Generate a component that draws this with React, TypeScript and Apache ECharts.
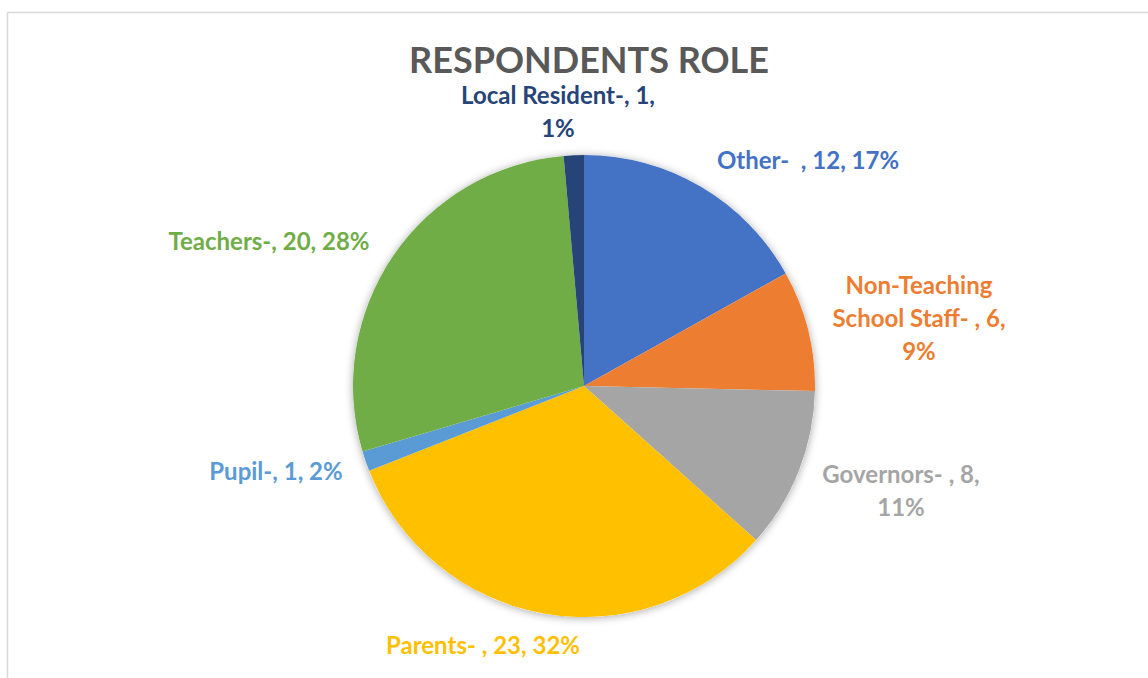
import React, { useEffect, useRef } from "react";
import * as echarts from "echarts";

const categories = [
  "Other",
  "Non-Teaching School Staff",
  "Governors",
  "Parents",
  "Pupil",
  "Teachers",
  "Local Resident",
];
const values = [12, 6, 8, 23, 1, 20, 1];
const labelTexts = [
  "Other-  , 12, 17%",
  "Non-Teaching\nSchool Staff- , 6,\n9%",
  "Governors- , 8,\n11%",
  "Parents- , 23, 32%",
  "Pupil-, 1, 2%",
  "Teachers-, 20, 28%",
  "Local Resident-, 1,\n1%",
];
const colors = ["#4472C4", "#ED7D31", "#A5A5A5", "#FFC000", "#5B9BD5", "#70AD47", "#264478"];
// label block centres (layout, not data)
const labelPos: [number, number][] = [
  [808, 159],
  [919, 317],
  [901, 490],
  [483, 644],
  [276, 470],
  [269, 240],
  [558, 111],
];

export default function App() {
  const ref = useRef<HTMLDivElement>(null);
  useEffect(() => {
    if (!ref.current) return;
    const chart = echarts.init(ref.current, undefined, { renderer: "svg" });
    const font = "Lato, 'Open Sans', sans-serif";
    chart.setOption({
      animation: false,
      backgroundColor: "#ffffff",
      title: {
        text: "RESPONDENTS ROLE",
        left: 584,
        top: 36,
        textAlign: "center",
        textStyle: { fontFamily: font, fontWeight: "bold", fontSize: 36, color: "#595959" },
      },
      graphic: [
        {
          type: "polyline",
          shape: { points: [[7.5, 678], [7.5, 12.5], [1148, 12.5]] },
          style: { stroke: "#D9D9D9", lineWidth: 1.5, fill: "none" },
          silent: true,
        },
      ],
      series: [
        {
          type: "pie",
          silent: true,
          center: [584, 386],
          radius: 231,
          z: 1,
          label: { show: false },
          labelLine: { show: false },
          itemStyle: { color: "#ffffff", shadowBlur: 8, shadowColor: "rgba(0,0,0,0.35)", shadowOffsetY: 1 },
          data: [{ value: 1, name: "bg" }],
        },
        {
          type: "pie",
          center: [584, 386],
          radius: 231,
          startAngle: 90,
          clockwise: true,
          z: 2,
          itemStyle: { borderWidth: 0 },
          labelLine: { show: false },
          label: {
            show: true,
            position: "outside",
            fontFamily: font,
            fontWeight: "bold",
            fontSize: 24,
            lineHeight: 33,
            align: "center",
            formatter: (p: any) => labelTexts[p.dataIndex],
          },
          labelLayout: (p: any) => ({
            x: labelPos[p.dataIndex][0],
            y: labelPos[p.dataIndex][1],
            align: "center",
            verticalAlign: "middle",
            hideOverlap: false,
            moveOverlap: false,
          }),
          data: categories.map((c, i) => ({
            name: c,
            value: values[i],
            itemStyle: { color: colors[i] },
            label: { color: colors[i] },
          })),
        },
      ],
    });
    return () => chart.dispose();
  }, []);
  return (
    <div
      ref={ref}
      style={{ position: "fixed", left: 0, top: 0, width: 1148, height: 678 }}
    />
  );
}
